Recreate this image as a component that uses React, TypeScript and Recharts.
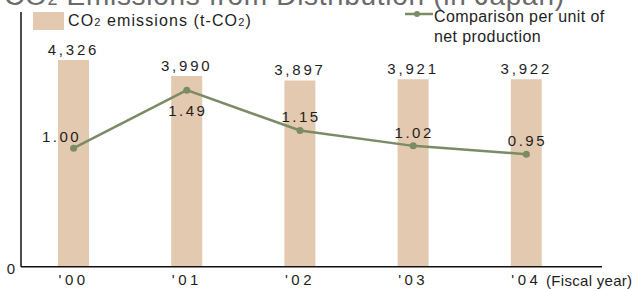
import { ComposedChart, Bar, Line, XAxis, YAxis, LabelList } from 'recharts'

const years = ["'00", "'01", "'02", "'03", "'04"]
const co2Emissions = [4326, 3990, 3897, 3921, 3922]
const perUnitRatio = [1.0, 1.49, 1.15, 1.02, 0.95]

const data = years.map((year, i) => ({ year, co2: co2Emissions[i], ratio: perUnitRatio[i] }))

const BAR = '#E3C9AF'
const LINE = '#7B8B65'
const TEXT = '#1e1e1e'
const FONT = 'Arial, "Liberation Sans", sans-serif'

// label offset from each ratio point (first sits left, second sits under)
const ratioShift = [[-12, -12], [1, 20], [1, -14], [1, -13], [1, -14]]

function RatioLabel(props: any) {
  const { x, y, index, value } = props
  const [dx, dy] = ratioShift[index] || [0, -14]
  return (
    <text x={x + dx} y={y + dy + 5.4} textAnchor="middle" fontSize={15} letterSpacing={2.5} fill={TEXT} fontFamily={FONT}>
      {Number(value).toFixed(2)}
    </text>
  )
}

function ZeroTick(props: any) {
  const { x, y, payload } = props
  return (
    <text x={x} y={y + 2} dy="0.355em" textAnchor="end" fontSize={15} fill={TEXT} fontFamily={FONT}>
      {payload.value}
    </text>
  )
}

export default function App() {
  return (
    <div style={{ position: 'relative', width: 632, height: 289, fontFamily: FONT }}>
      <style>{'body{margin:0}'}</style>
      <ComposedChart width={632} height={289} data={data} margin={{ top: 12, right: 30, bottom: 0, left: 0 }}>
        <XAxis
          dataKey="year"
          height={22.3}
          padding={{ left: -4, right: 19 }}
          tickLine={false}
          interval={0}
          axisLine={{ stroke: '#111', strokeWidth: 1.5 }}
          tick={{ fontSize: 15, fill: TEXT, letterSpacing: 3.5, fontFamily: FONT }}
        />
        <YAxis
          yAxisId="co2"
          domain={[0, 5330]}
          ticks={[0]}
          width={21}
          tickLine={false}
          tickMargin={0}
          axisLine={{ stroke: '#111', strokeWidth: 1.5 }}
          tick={<ZeroTick />}
        />
        <YAxis yAxisId="ratio" orientation="right" domain={[0, 2.15]} hide />
        <Bar yAxisId="co2" dataKey="co2" fill={BAR} barSize={31} isAnimationActive={false}>
          <LabelList
            dataKey="co2"
            position="top"
            formatter={(v: any) => Number(v).toLocaleString('en-US')}
            style={{ fontSize: 15, letterSpacing: 2.8, fill: TEXT, fontFamily: FONT }}
          />
        </Bar>
        <Line
          yAxisId="ratio"
          dataKey="ratio"
          type="linear"
          stroke={LINE}
          strokeWidth={2.5}
          dot={{ r: 3.5, fill: LINE, stroke: LINE, strokeWidth: 0 }}
          isAnimationActive={false}
        >
          <LabelList dataKey="ratio" content={RatioLabel} />
        </Line>
      </ComposedChart>
      <svg width={632} height={289} style={{ position: 'absolute', left: 0, top: 0, pointerEvents: 'none' }}>
        <text x={4} y={5} fontSize={28} letterSpacing={0.7} fill="#6a6a6a" fontFamily={FONT}>
          CO<tspan fontSize={18}>2</tspan> Emissions from Distribution (in Japan)
        </text>
        <rect x={33} y={12} width={31} height={18} fill={BAR} />
        <text x={68} y={26} fontSize={16} letterSpacing={1.1} fill={TEXT} fontFamily={FONT}>
          CO<tspan fontSize={11}>2</tspan> emissions (t-CO<tspan fontSize={11}>2</tspan>)
        </text>
        <line x1={405} x2={433} y1={14} y2={14} stroke={LINE} strokeWidth={2.5} />
        <circle cx={417} cy={14} r={3} fill={LINE} />
        <text x={434} y={21.6} fontSize={16} letterSpacing={0.4} fill={TEXT} fontFamily={FONT}>
          Comparison per unit of
        </text>
        <text x={434} y={41.6} fontSize={16} letterSpacing={0.4} fill={TEXT} fontFamily={FONT}>
          net production
        </text>
        <text x={546} y={286} fontSize={15} letterSpacing={0.3} fill={TEXT} fontFamily={FONT}>
          (Fiscal year)
        </text>
      </svg>
    </div>
  )
}
